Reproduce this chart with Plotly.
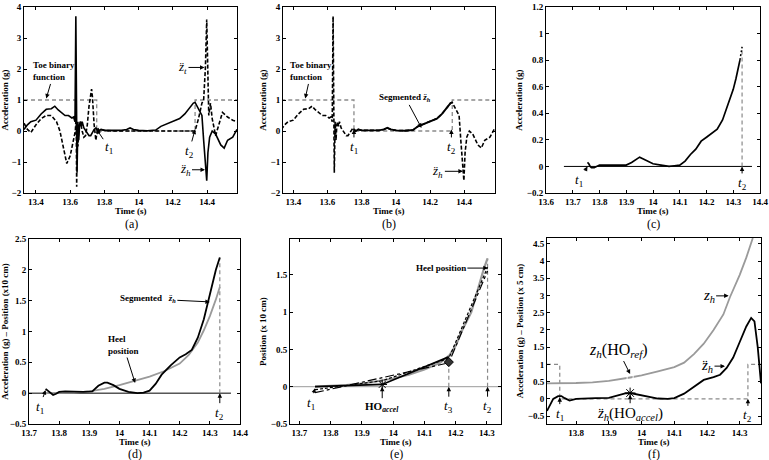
import plotly.graph_objects as go

W, H = 769, 460
SERIF = "Liberation Serif"
BLACK = "black"
GRAY = "#9a9a9a"
DGRAY = "#8a8a8a"

# ---------------- data ----------------
T1, T2 = 13.755, 14.33
# heel vertical acceleration (g)
HEEL_T = [13.33, 13.35, 13.37, 13.40, 13.43, 13.46, 13.49, 13.51, 13.53, 13.55, 13.57, 13.59, 13.61, 13.62,
          13.628, 13.633, 13.637, 13.640, 13.645, 13.65, 13.655, 13.66, 13.665, 13.67, 13.68, 13.69, 13.70,
          13.71, 13.72, 13.73, 13.74, 13.75, 13.755, 13.765, 13.78, 13.80, 13.85, 13.90, 13.93, 13.95, 13.97,
          14.00, 14.05, 14.10, 14.13, 14.16, 14.20, 14.24, 14.27, 14.30, 14.32, 14.33, 14.345, 14.36, 14.37,
          14.38, 14.388, 14.393, 14.398, 14.405, 14.415, 14.43, 14.45, 14.48, 14.50, 14.52, 14.55, 14.575]
HEEL_A = [0.05, 0.2, 0.3, 0.35, 0.55, 0.7, 0.72, 0.8, 0.68, 0.6, 0.5, 0.5, 0.42, 0.45,
          0.3, 3.7, 0.5, -1.35, 0.3, -0.3, 0.2, 0.3, 0.15, 0.3, 0.1, 0.0, -0.1,
          -0.15, -0.15, -0.05, 0.05, 0.1, 0.05, 0.0, 0.05, 0.02, 0.02, 0.02, 0.05, 0.1, 0.05,
          0.02, 0.01, 0.03, 0.15, 0.22, 0.3, 0.4, 0.55, 0.75, 0.9, 0.92, 0.75, 0.6, 0.5,
          -0.3, -1.0, -1.3, -1.6, -0.7, -0.2, 0.0, -0.1, -0.45, -0.55, -0.3, -0.2, 0.05]
# toe vertical acceleration (g)
TOE_T = [13.33, 13.35, 13.37, 13.40, 13.43, 13.46, 13.49, 13.52, 13.54, 13.56, 13.58, 13.60, 13.62, 13.63,
         13.635, 13.638, 13.641, 13.645, 13.65, 13.66, 13.67, 13.68, 13.69, 13.70, 13.71, 13.72, 13.725,
         13.73, 13.74, 13.75, 13.76, 13.77, 13.78, 13.80, 13.85, 14.0, 14.2,
         14.33, 14.35, 14.37, 14.38, 14.39, 14.398, 14.404, 14.41, 14.42, 14.43, 14.45, 14.47, 14.49,
         14.52, 14.55, 14.575]
TOE_A = [0.25, 0.05, -0.05, 0.2, 0.4, 0.5, 0.5, 0.3, 0.0, -0.5, -1.05, -0.8, -0.2, 0.0,
         0.5, -1.8, 0.2, -0.5, 0.1, 0.3, 0.0, -0.2, -0.15, 0.2, 0.8, 1.2, 1.35,
         1.1, 0.2, -0.3, 0.1, 0.0, 0.05, 0.02, 0.0, 0.0, 0.0,
         0.0, 0.4, 0.9, 1.0, 2.0, 3.6, 2.0, 0.5, 0.9, 0.4, -0.15, 0.2, 0.6,
         0.45, 0.35, 0.3]
# toe binary function
BIN_T = [13.33, T1, T1, T2, T2, 14.58]
BIN_V = [1, 1, 0, 0, 1, 1]

# (c) segmented heel acceleration
C_T = [13.755, 13.76, 13.765, 13.77, 13.78, 13.79, 13.80, 13.81, 13.83, 13.85, 13.87, 13.89, 13.90, 13.92,
       13.94, 13.95, 13.96, 13.98, 14.00, 14.03, 14.06, 14.08, 14.10, 14.12, 14.14, 14.16, 14.18, 14.20,
       14.22, 14.24, 14.26, 14.28, 14.30, 14.31, 14.32, 14.325]
C_V = [0.03, 0.02, 0.0, -0.01, -0.01, 0.0, 0.01, 0.01, 0.01, 0.01, 0.005, 0.005, 0.01, 0.03,
       0.06, 0.07, 0.06, 0.04, 0.02, 0.01, 0.0, 0.005, 0.01, 0.04, 0.09, 0.13, 0.19, 0.22,
       0.25, 0.28, 0.35, 0.46, 0.58, 0.66, 0.74, 0.8]
C_END_T = [14.325, 14.333]
C_END_V = [0.8, 0.9]
C_ZERO_T = [13.667, 14.37]

# (d) segmented acceleration and heel position
D_T = [13.755, 13.76, 13.77, 13.78, 13.79, 13.80, 13.82, 13.85, 13.88, 13.91, 13.93, 13.95, 13.96, 13.98,
       14.00, 14.03, 14.06, 14.08, 14.10, 14.12, 14.14, 14.17, 14.20, 14.22, 14.24, 14.26, 14.28, 14.30,
       14.32, 14.333]
D_V = [0.07, 0.05, 0.0, -0.03, -0.01, 0.02, 0.03, 0.02, 0.02, 0.03, 0.12, 0.17, 0.17, 0.13,
       0.07, 0.02, 0.0, 0.01, 0.04, 0.15, 0.3, 0.45, 0.58, 0.63, 0.7, 0.9, 1.2, 1.6, 2.0, 2.2]
DP_T = [13.755, 13.80, 13.85, 13.90, 13.95, 14.00, 14.05, 14.10, 14.15, 14.20, 14.23, 14.26, 14.28, 14.30,
        14.32, 14.333]
DP_V = [0.0, 0.0, 0.01, 0.03, 0.07, 0.13, 0.2, 0.27, 0.36, 0.48, 0.62, 0.82, 1.02, 1.25, 1.52, 1.72]
D_T2 = 14.333
D_ZERO_T = [13.7, 14.37]

# (e) heel position and piecewise approximations
E_T1, E_HO, E_T3, E_T2 = 13.75, 13.965, 14.178, 14.302
EP_T = [13.75, 13.80, 13.85, 13.90, 13.95, 14.00, 14.05, 14.10, 14.15, 14.18, 14.20, 14.22, 14.25, 14.27,
        14.29, 14.302]
EP_V = [0.0, 0.01, 0.02, 0.04, 0.07, 0.11, 0.16, 0.23, 0.32, 0.42, 0.55, 0.75, 1.0, 1.3, 1.58, 1.72]
ES_T = [E_T1, E_HO, E_T3]
ES_V = [0.0, 0.03, 0.4]
EDASH_T = [E_T1, E_HO, E_T3, E_T2]
EDASH_V = [-0.04, 0.08, 0.38, 1.6]
EDD_T = [E_T1, E_T3, E_T2]
EDD_V = [-0.08, 0.32, 1.55]
E_STAR = (E_HO, 0.03)
E_DIAM = (E_T3, 0.33)
E_ZERO_T = [13.67, 14.345]

# (f) heel position and acceleration
F_T1, F_HO, F_T2 = 13.75, 13.965, 14.325
FP_T = [13.711, 13.75, 13.80, 13.85, 13.90, 13.965, 14.00, 14.05, 14.10, 14.13, 14.16, 14.19, 14.22, 14.25,
        14.27, 14.30, 14.32, 14.34]
FP_V = [0.45, 0.45, 0.46, 0.48, 0.52, 0.62, 0.68, 0.8, 0.92, 1.05, 1.3, 1.6, 2.0, 2.45, 2.95, 3.6, 4.1, 4.67]
FA_T = [13.711, 13.72, 13.73, 13.745, 13.755, 13.765, 13.78, 13.80, 13.83, 13.86, 13.90, 13.93, 13.95, 13.965,
        13.99, 14.02, 14.05, 14.08, 14.10, 14.13, 14.16, 14.19, 14.22, 14.24, 14.26, 14.28, 14.30, 14.32,
        14.335, 14.345, 14.355, 14.365]
FA_V = [-0.35, -0.2, 0.0, 0.08, 0.08, 0.02, -0.05, 0.0, 0.02, 0.02, 0.03, 0.1, 0.16, 0.17,
        0.12, 0.05, 0.01, 0.0, 0.02, 0.15, 0.35, 0.55, 0.63, 0.7, 0.9, 1.2, 1.65, 2.1,
        2.35, 2.25, 1.5, 0.45]
FB_T = [13.711, F_T1, F_T1, F_T2, F_T2, 14.365]
FB_V = [1, 1, 0, 0, 1, 1]
F_SQUARE = (F_HO, 0.62)
F_STAR = (F_HO, 0.17)

# tick values / labels
AB_XT = [13.4, 13.6, 13.8, 14.0, 14.2, 14.4]
AB_XL = ["13.4", "13.6", "13.8", "14", "14.2", "14.4"]
AB_YT = [-2, -1, 0, 1, 2, 3, 4]
AB_YL = ["\u22122", "\u22121", "0", "1", "2", "3", "4"]
C_XT = [13.6, 13.7, 13.8, 13.9, 14.0, 14.1, 14.2, 14.3, 14.4]
C_XL = ["13.6", "13.7", "13.8", "13.9", "14", "14.1", "14.2", "14.3", "14.4"]
C_YT = [-0.2, 0, 0.2, 0.4, 0.6, 0.8, 1.0, 1.2]
C_YL = ["\u22120.2", "0", "0.2", "0.4", "0.6", "0.8", "1", "1.2"]
D_XT = [13.7, 13.8, 13.9, 14.0, 14.1, 14.2, 14.3, 14.4]
D_XL = ["13.7", "13.8", "13.9", "14", "14.1", "14.2", "14.3", "14.4"]
D_YT = [-0.5, 0, 0.5, 1, 1.5, 2, 2.5]
D_YL = ["\u22120.5", "0", "0.5", "1", "1.5", "2", "2.5"]
E_XT = [13.7, 13.8, 13.9, 14.0, 14.1, 14.2, 14.3]
E_XL = ["13.7", "13.8", "13.9", "14", "14.1", "14.2", "14.3"]
E_YT = [-0.5, 0, 0.5, 1, 1.5]
E_YL = ["\u22120.5", "0", "0.5", "1", "1.5"]
F_XT = [13.8, 13.9, 14.0, 14.1, 14.2, 14.3]
F_XL = ["13.8", "13.9", "14", "14.1", "14.2", "14.3"]
F_YT = [-0.5, 0, 0.5, 1, 1.5, 2, 2.5, 3, 3.5, 4, 4.5]
F_YL = ["\u22120.5", "0", "0.5", "1", "1.5", "2", "2.5", "3", "3.5", "4", "4.5"]

# ---------------- figure ----------------
fig = go.Figure()


def line(n, x, y, color=BLACK, width=1.5, dash="solid"):
    s = "" if n == 1 else str(n)
    fig.add_trace(go.Scatter(x=x, y=y, mode="lines", line=dict(color=color, width=width, dash=dash),
                             xaxis="x" + s, yaxis="y" + s, showlegend=False, hoverinfo="skip"))


def marker(n, pt, symbol, color=BLACK, size=7):
    s = "" if n == 1 else str(n)
    fig.add_trace(go.Scatter(x=[pt[0]], y=[pt[1]], mode="markers",
                             marker=dict(symbol=symbol, size=size, color=color, line=dict(color=BLACK, width=1)),
                             xaxis="x" + s, yaxis="y" + s, showlegend=False, hoverinfo="skip"))


DASH = "4px,2px"
GDASH = "4px,3px"

# (a)
line(1, BIN_T, BIN_V, color=DGRAY, width=1.3, dash=GDASH)
line(1, TOE_T, TOE_A, width=1.6, dash=DASH)
line(1, HEEL_T, HEEL_A, width=1.6)

# (b)
line(2, BIN_T, BIN_V, color=DGRAY, width=1.3, dash=GDASH)
line(2, HEEL_T, HEEL_A, width=1.6, dash=DASH)
seg = [(t, a) for t, a in zip(HEEL_T, HEEL_A) if T1 <= t <= T2]
line(2, [p[0] for p in seg], [p[1] for p in seg], width=1.9)

# (c)
line(3, C_ZERO_T, [0, 0], width=1)
line(3, [C_END_T[1], C_END_T[1]], [0, C_END_V[1]], color=DGRAY, width=1.2, dash=GDASH)
line(3, C_END_T, C_END_V, width=1.5, dash="2px,2px")
line(3, C_T, C_V, width=1.7)

# (d)
line(4, D_ZERO_T, [0, 0], width=1)
line(4, [D_T2, D_T2], [0, D_V[-1]], color=DGRAY, width=1.2, dash=GDASH)
line(4, DP_T, DP_V, color=GRAY, width=1.8)
line(4, D_T, D_V, width=1.8)

# (e)
line(5, E_ZERO_T, [0, 0], color=GRAY, width=1)
line(5, [E_T3, E_T3], [0, E_DIAM[1]], color=DGRAY, width=1.2, dash=GDASH)
line(5, [E_T2, E_T2], [0, EP_V[-1]], color=DGRAY, width=1.2, dash=GDASH)
line(5, EP_T, EP_V, color=GRAY, width=2.2)
line(5, EDD_T, EDD_V, width=1.2, dash="dashdot")
line(5, EDASH_T, EDASH_V, width=1.2, dash="3px,2px")
line(5, ES_T, ES_V, width=1.8)
marker(5, E_STAR, "asterisk-open", size=8)
marker(5, E_DIAM, "diamond", color="#333333", size=7)

# (f)
line(6, FB_T, FB_V, color=DGRAY, width=1.2, dash=GDASH)
line(6, FP_T, FP_V, color=GRAY, width=1.8)
line(6, FA_T, FA_V, width=1.8)
marker(6, F_SQUARE, "square-open", color="white", size=6)
marker(6, F_STAR, "asterisk-open", size=9)

# ---------------- axes ----------------
PANELS = [
    # px_x, px_y, xrange, yrange, xt, xl, yt, yl, ytitle
    ((24, 237), (7, 193), [13.33, 14.575], [-2, 4], AB_XT, AB_XL, AB_YT, AB_YL, "Acceleration (g)"),
    ((283, 495), (7, 193), [13.34, 14.58], [-2, 4], AB_XT, AB_XL, AB_YT, AB_YL, "Acceleration (g)"),
    ((546, 760), (7, 193), [13.6, 14.4], [-0.2, 1.2], C_XT, C_XL, C_YT, C_YL, "Acceleration (g)"),
    ((29, 240), (239, 424), [13.7, 14.4], [-0.5, 2.5], D_XT, D_XL, D_YT, D_YL,
     "Acceleration (g) \u2013 Position (x10 cm)"),
    ((290, 501), (239, 424), [13.67, 14.345], [-0.5, 1.98], E_XT, E_XL, E_YT, E_YL, "Position (x 10 cm)"),
    ((547, 761), (238, 424), [13.711, 14.365], [-0.73, 4.67], F_XT, F_XL, F_YT, F_YL,
     "Acceleration (g) \u2013 Position (x 5 cm)"),
]
tickfont = dict(family=SERIF, size=9, color=BLACK, weight="bold")
titlefont = dict(family=SERIF, size=9, color=BLACK, weight="bold")
layout = {}
ann = []
for i, (px, py, xr, yr, xt, xl, yt, yl, ytitle) in enumerate(PANELS, start=1):
    s = "" if i == 1 else str(i)
    common = dict(showgrid=False, zeroline=False, showline=True, linecolor=BLACK, linewidth=1,
                  mirror="ticks", ticks="inside", ticklen=3, tickcolor=BLACK, tickfont=tickfont,
                  automargin=False)
    layout["xaxis" + s] = dict(domain=[px[0] / W, px[1] / W], range=xr, tickvals=xt, ticktext=xl,
                               anchor="y" + s, **common)
    layout["yaxis" + s] = dict(domain=[1 - py[1] / H, 1 - py[0] / H], range=yr, tickvals=yt, ticktext=yl,
                               anchor="x" + s, title=dict(text=ytitle, font=titlefont, standoff=2),
                               **common)
    # x-axis title placed just under tick labels
    ann.append(dict(text="Time (s)", x=(px[0] + px[1]) / 2 / W, y=1 - (py[1] + 18) / H, xref="paper",
                    yref="paper", showarrow=False, xanchor="center", yanchor="middle", font=titlefont))

# ---------------- annotations ----------------


def arrow(n, text, x, y, ax, ay, size=13, bold=False, align="center"):
    s = "" if n == 1 else str(n)
    ann.append(dict(text=text, x=x, y=y, xref="x" + s, yref="y" + s, ax=ax, ay=ay, showarrow=True,
                    arrowhead=2, arrowsize=0.9, arrowwidth=1, arrowcolor=BLACK, standoff=0, align=align,
                    font=dict(family=SERIF, size=size, color=BLACK, weight="bold" if bold else "normal")))


def t_lab(k):
    return "<i>t</i><sub>%s</sub>" % k


ZH2 = "<i>z\u0308</i><sub><i>h</i></sub>"
ZT2 = "<i>z\u0308</i><sub><i>t</i></sub>"
ZH = "<i>z</i><sub><i>h</i></sub>"

# (a)
arrow(1, "Toe binary<br>function", 13.46, 1.05, 8, -27, size=9, bold=True, align="left")
arrow(1, t_lab(1), T1, 0.05, 12, 18)
arrow(1, t_lab(2), T2, 0.05, -6, 22)
arrow(1, ZT2, 14.385, 2.05, -22, 0)
arrow(1, ZH2, 14.388, -1.25, -20, 0)
# (b)
arrow(2, "Toe binary<br>function", 13.47, 1.05, 6, -27, size=9, bold=True, align="left")
arrow(2, "Segmented " + ZH2, 14.15, 0.1, -16, -30, size=9, bold=True)
arrow(2, t_lab(1), T1, 0.05, 0, 18)
arrow(2, t_lab(2), 14.325, 0.05, 0, 18)
arrow(2, ZH2, 14.392, -1.3, -25, 0)
# (c)
arrow(3, t_lab(1), T1, 0.0, -8, 14)
arrow(3, t_lab(2), 14.333, 0.0, 0, 17)
# (d)
arrow(4, "Segmented   " + ZH2, 14.30, 1.48, -62, -3, size=9, bold=True)
arrow(4, "Heel<br>position", 14.052, 0.165, -12, -38, size=9, bold=True, align="left")
arrow(4, t_lab(1), T1, 0.05, -6, 17)
arrow(4, t_lab(2), D_T2, 0.0, 0, 20)
# (e)
arrow(5, "Heel position", 14.303, 1.59, -47, 0, size=9, bold=True)
arrow(5, t_lab(1), E_T1, -0.02, -4, 15)
arrow(5, "HO<sub><i>accel</i></sub>", E_HO, 0.0, 0, 20, size=11, bold=True)
arrow(5, t_lab(3), E_T3, 0.0, 0, 20)
arrow(5, t_lab(2), E_T2, 0.0, 0, 20)
# (f)
arrow(6, ZH, 14.266, 2.99, -20, 0, size=15)
arrow(6, ZH + "(HO<sub><i>ref</i></sub>)", F_SQUARE[0], F_SQUARE[1] + 0.1, -12, -24, size=16)
arrow(6, ZH2, 14.255, 0.95, -18, 0, size=15)
arrow(6, ZH2 + "(HO<sub><i>accel</i></sub>)", F_STAR[0], F_STAR[1] - 0.05, 0, 19, size=15)
arrow(6, t_lab(1), F_T1, 0.05, 0, 17)
arrow(6, t_lab(2), F_T2, 0.0, 0, 17)

for lab, cx, cy in [("(a)", 131, 224), ("(b)", 389, 224), ("(c)", 653, 224),
                    ("(d)", 135, 454), ("(e)", 396, 454), ("(f)", 654, 454)]:
    ann.append(dict(text=lab, x=cx / W, y=1 - cy / H, xref="paper", yref="paper", showarrow=False,
                    xanchor="center", yanchor="middle", font=dict(family=SERIF, size=12, color=BLACK)))

fig.update_layout(width=W, height=H, margin=dict(l=0, r=0, t=0, b=0), plot_bgcolor="white",
                  paper_bgcolor="white", annotations=ann, **layout)
fig.write_html("out.html")
